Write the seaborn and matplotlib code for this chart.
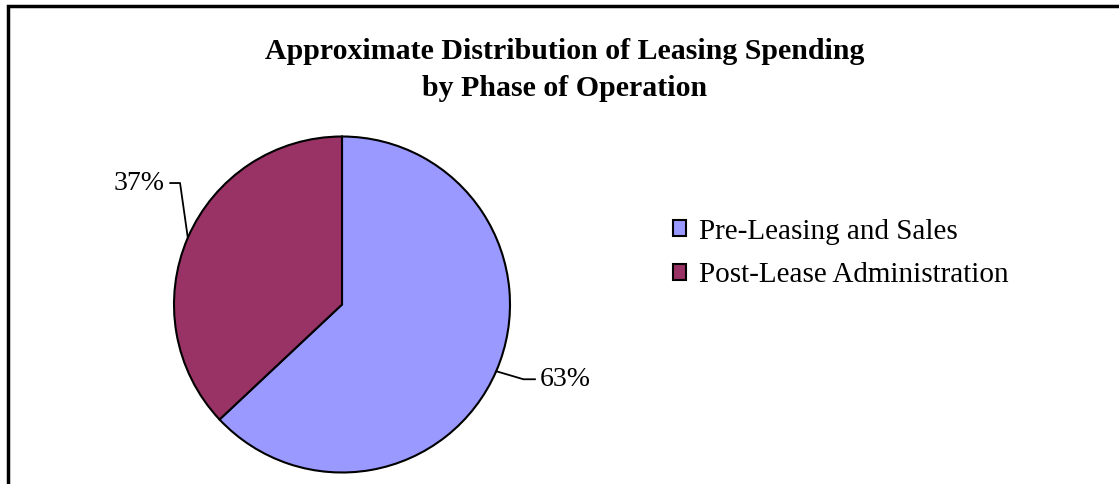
import matplotlib
matplotlib.use("Agg")
import matplotlib.pyplot as plt
from matplotlib.patches import Rectangle
import numpy as np
import seaborn as sns

# chart data
phases = ["Pre-Leasing and Sales", "Post-Lease Administration"]
shares = [63, 37]
slice_colors = ["#9999FF", "#993366"]
title = "Approximate Distribution of Leasing Spending\nby Phase of Operation"

sns.set_theme(style="white")
plt.rcParams["font.family"] = ["Liberation Serif", "DejaVu Serif"]
plt.rcParams["text.color"] = "black"

W, H = 1119, 484
fig = plt.figure(figsize=(W / 100, H / 100), dpi=100)
fig.patch.set_facecolor("white")

# chart frame (left and top edges visible, rest runs off the image)
fig.patches.append(Rectangle((8 / W, -0.2), 1.2, 1.2 - 6 / H,
                             transform=fig.transFigure, fill=False,
                             edgecolor="black", linewidth=2.5))

fig.text(565 / W, 1 - 38 / H, title, ha="center", va="top",
         fontsize=21.5, fontweight="bold", linespacing=1.5)

# pie axes: center (342, 304.5), radius 168 px
cx, cy, r = 342, 304.5, 168
ax = fig.add_axes([(cx - r) / W, (H - cy - r) / H, 2 * r / W, 2 * r / H])
wedges, _ = ax.pie(shares, colors=sns.color_palette(slice_colors),
                   startangle=90, counterclock=False, radius=1,
                   wedgeprops=dict(edgecolor="black", linewidth=1.5))
ax.set_xlim(-1, 1)
ax.set_ylim(-1, 1)
ax.set_aspect("equal")
ax.axis("off")

# percent labels with elbow leader lines
label_spots = [(1.18, -0.445, "left"), (-1.054, 0.723, "right")]
for w, val, (tx, ty, ha) in zip(wedges, shares, label_spots):
    mid = np.deg2rad((w.theta1 + w.theta2) / 2)
    ex, ey = np.cos(mid), np.sin(mid)
    if ha == "left":
        elbow = (tx - 0.10, ty)
        end = (tx - 0.03, ty)
    else:
        elbow = (tx + 0.09, ty)
        end = (tx + 0.03, ty)
    ax.plot([ex, elbow[0], end[0]], [ey, elbow[1], end[1]], color="black",
            linewidth=1.3, clip_on=False)
    ax.text(tx, ty, f"{val}%", ha=ha, va="center", fontsize=20, clip_on=False)

leg = fig.legend(wedges, phases, loc="upper left",
                 bbox_to_anchor=(658 / W, 1 - 204 / H), frameon=False,
                 fontsize=21, borderpad=0, handlelength=0.45, handleheight=0.45,
                 handletextpad=0.45, labelspacing=0.6)
for h in leg.legend_handles:
    h.set_edgecolor("black")
    h.set_linewidth(1.5)

fig.savefig("out.png", dpi=100, facecolor="white")
